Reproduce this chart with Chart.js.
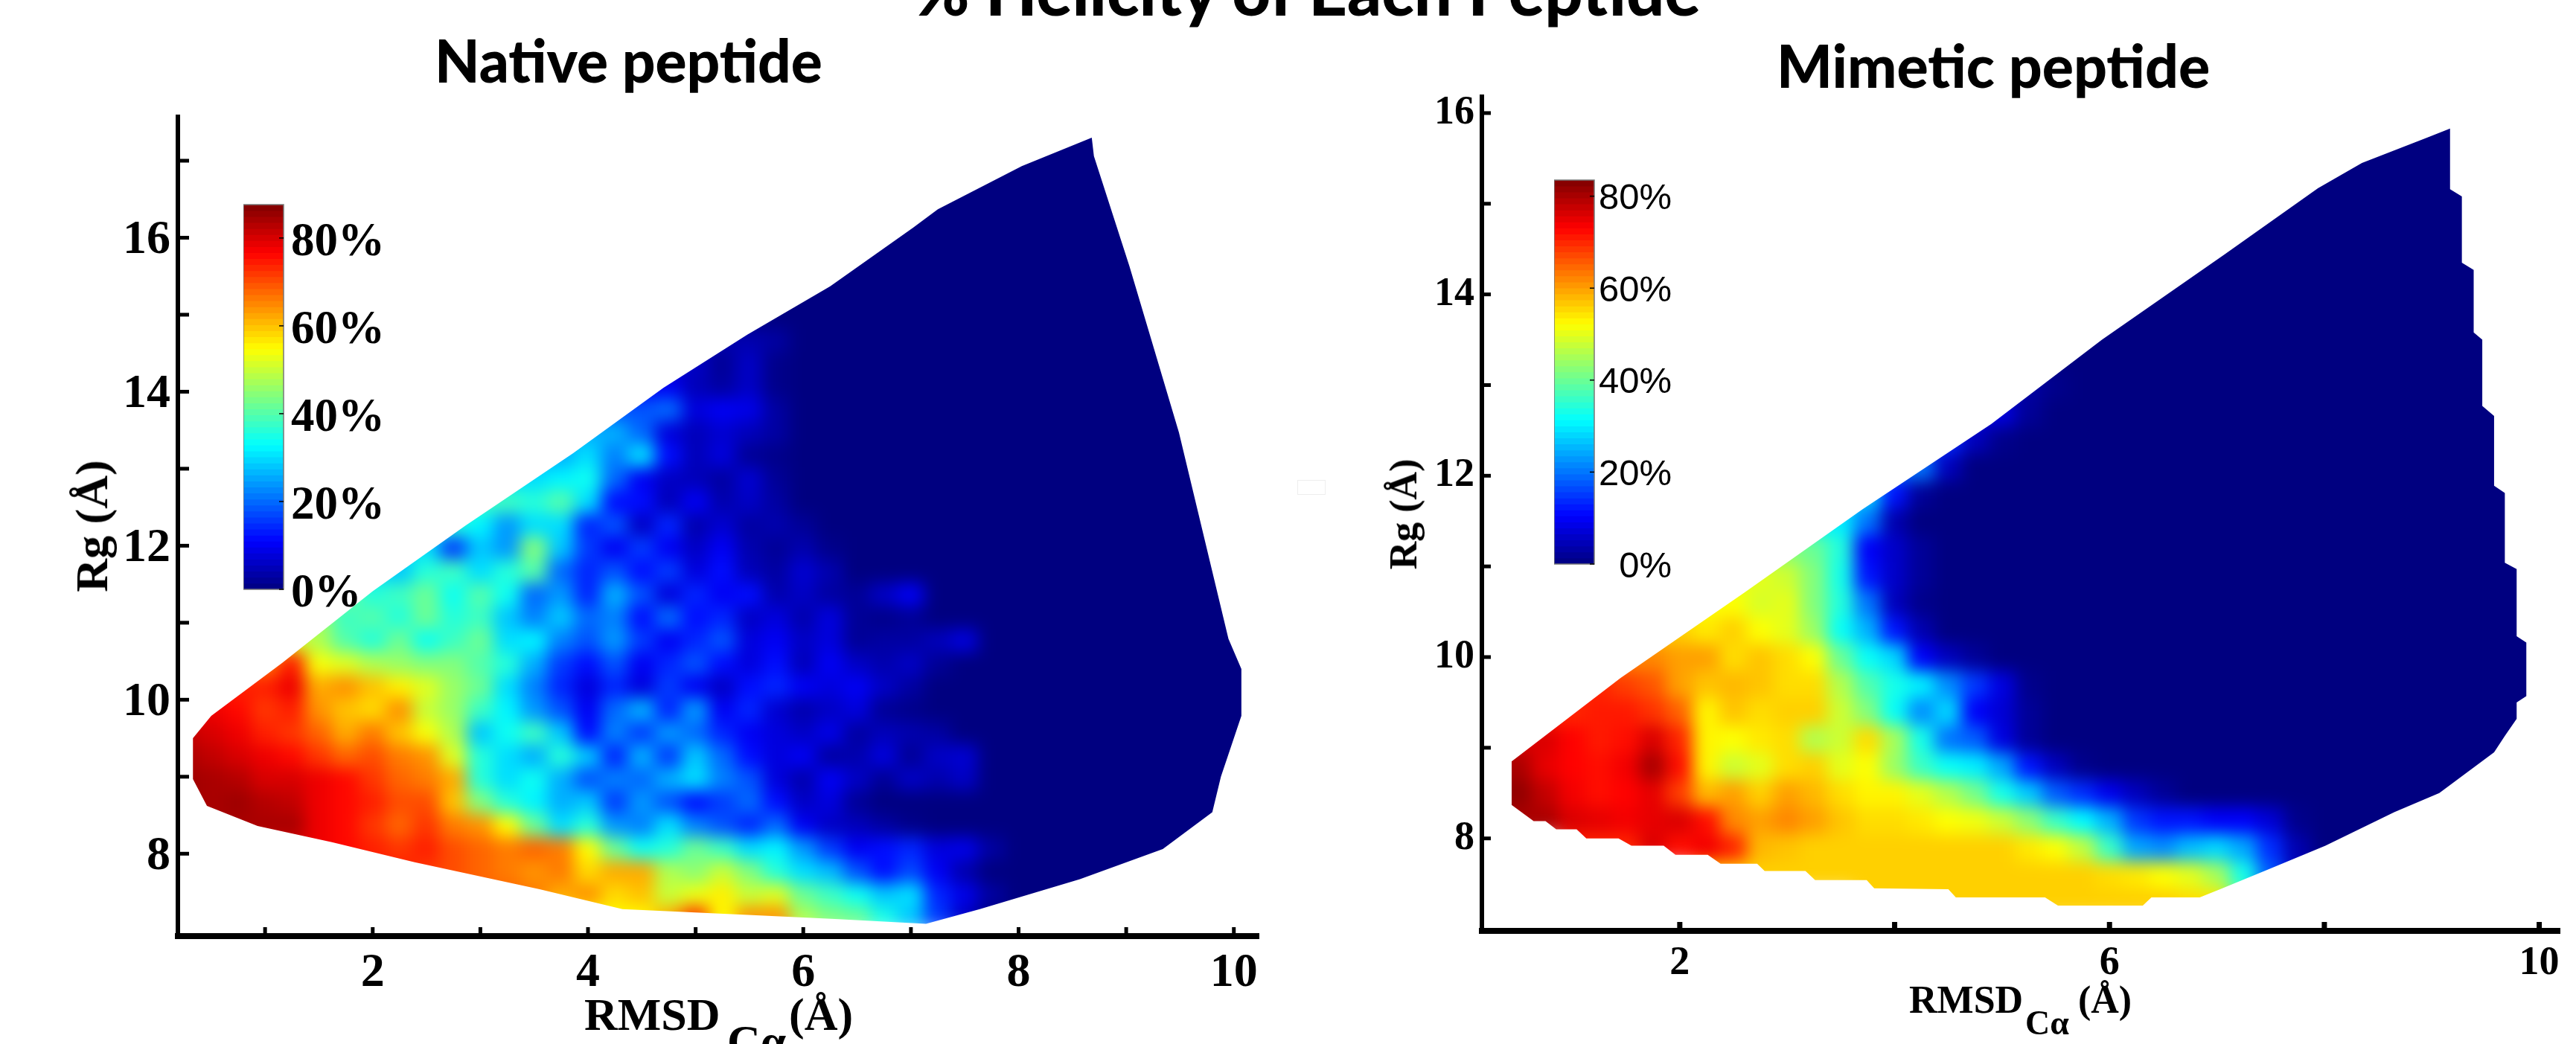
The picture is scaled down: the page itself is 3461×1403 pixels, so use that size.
<!DOCTYPE html>
<html>
<head>
<meta charset="utf-8">
<script src="https://cdn.jsdelivr.net/npm/chart.js@4"></script>
<style>
html, body { margin: 0; padding: 0; background: #fff; }
body { width: 3461px; height: 1403px; overflow: hidden; position: relative; }
canvas { position: absolute; }
.txt { position: absolute; white-space: pre; color: #000; line-height: 1; }
.sans { font-family: 'Lato', sans-serif; font-weight: 900; transform-origin: left top; }
.serif { font-family: 'Liberation Serif', serif; font-weight: 700; }
</style>
</head>
<body>
<canvas id="native-chart" width="1571" height="1273" style="left:130px;top:130px"></canvas>
<canvas id="mimetic-chart" width="1559" height="1293" style="left:1890px;top:110px"></canvas>
<canvas id="native-bar" width="200" height="600" style="left:327px;top:240px"></canvas>
<canvas id="mimetic-bar" width="170" height="600" style="left:2088px;top:200px"></canvas>
<div class="txt sans" style="left:1228px;top:-60px;font-size:92px;transform:scaleX(.98)">% Helicity of Each Peptide</div>
<div class="txt sans" style="left:584px;top:40px;font-size:80px;transform:scaleX(.98)">Native peptide</div>
<div class="txt sans" style="left:2387px;top:47px;font-size:80px;transform:scaleX(.985)">Mimetic peptide</div>
<div class="txt serif" style="left:785px;top:1332px;font-size:62px">RMSD</div>
<div class="txt serif" style="left:977px;top:1368px;font-size:62px">Cα</div>
<div class="txt serif" style="left:1060px;top:1332px;font-size:62px">(Å)</div>
<div class="txt serif" style="left:123px;top:707px;font-size:62px;transform:translate(-50%,-50%) rotate(-90deg)">Rg (Å)</div>
<div class="txt serif" style="left:2565px;top:1318px;font-size:52px">RMSD</div>
<div class="txt serif" style="left:2721px;top:1352px;font-size:46px">Cα</div>
<div class="txt serif" style="left:2792px;top:1318px;font-size:52px">(Å)</div>
<div class="txt serif" style="left:1886px;top:691px;font-size:52px;transform:translate(-50%,-50%) rotate(-90deg)">Rg (Å)</div>
<div style="position:absolute;left:1743px;top:645px;width:36px;height:18px;border:1px solid #eee"></div>

<script>
// axis ticks
const nativeXTicks = [1, 2, 3, 4, 5, 6, 7, 8, 9, 10];
const nativeXLabels = [2, 4, 6, 8, 10];
const nativeYTicks = [8, 9, 10, 11, 12, 13, 14, 15, 16, 17];
const nativeYLabels = [8, 10, 12, 14, 16];
const mimeticXTicks = [2, 4, 6, 8, 10];
const mimeticXLabels = [2, 6, 10];
const mimeticYTicks = [8, 9, 10, 11, 12, 13, 14, 15, 16];
const mimeticYLabels = [8, 10, 12, 14, 16];
const colorbarTicks = [0, 20, 40, 60, 80];

// Rg of each heat map row, RMSD of the first value in the row, helicity % from there on.
// Columns are 0.25 apart; whatever a row leaves out to the right is 0%.
const nativeRg = [7.2, 7.5, 7.8, 8.1, 8.4, 8.7, 9.0, 9.3, 9.6, 9.9, 10.2, 10.5, 10.8, 11.1, 11.4, 11.7, 12.0, 12.3,
    12.6, 12.9, 13.2, 13.5, 13.8, 14.1, 14.4, 14.7, 15.0, 15.3, 15.6, 15.9, 16.2, 16.5, 16.8, 17.1, 17.4];
const nativeStart = [4.25, 3.25, 2.25, 1.25, 0.75, 0.25, 0.25, 0.25, 0.25, 0.5, 0.75, 1, 1.25, 1.5, 1.75, 2, 2.5, 2.75,
    3.25, 3.5, 3.75, 4.25, 4.5, 4.75, 5, 5.5, 5.75, 6, 6.5, 6.75, 7, 7.5, 7.75, 8.25, 8.5];
const nativeRows = [
    [55, 55, 62, 72, 55, 64, 64, 48, 44, 42, 35, 28, 16, 6],
    [68, 66, 62, 64, 58, 60, 50, 53, 56, 50, 52, 42, 38, 34, 28, 30, 14, 9, 3],
    [74, 72, 70, 68, 66, 64, 66, 58, 62, 62, 48, 45, 50, 44, 36, 30, 27, 18, 12, 17, 10, 4],
    [80, 78, 76, 74, 72, 74, 70, 68, 66, 68, 66, 55, 42, 34, 36, 42, 38, 30, 32, 24, 16, 10, 12, 14, 8, 9, 3],
    [84, 84, 84, 78, 76, 72, 68, 72, 66, 64, 55, 42, 30, 36, 24, 22, 30, 22, 18, 14, 20, 10, 6, 5, 3, 1],
    [85, 84, 85, 83, 82, 78, 76, 74, 70, 70, 60, 44, 36, 32, 26, 28, 16, 24, 18, 12, 16, 20, 12, 6, 8, 2],
    [85, 84, 83, 80, 80, 78, 76, 72, 68, 66, 62, 36, 30, 34, 26, 18, 22, 20, 26, 30, 22, 18, 8, 4, 10, 6, 2, 6, 4, 6],
    [84, 82, 80, 78, 76, 72, 68, 70, 66, 64, 52, 36, 30, 26, 36, 28, 14, 26, 16, 28, 20, 12, 8, 10, 3, 4, 8, 2, 6, 7],
    [82, 80, 78, 74, 72, 68, 62, 66, 60, 54, 48, 28, 34, 38, 28, 12, 22, 16, 24, 20, 14, 10, 8, 6, 9, 3, 5, 4, 3],
    [78, 76, 72, 74, 64, 60, 58, 64, 50, 46, 38, 32, 24, 18, 10, 20, 26, 14, 24, 10, 14, 7, 4, 6, 8, 2, 1],
    [74, 74, 78, 62, 64, 60, 56, 52, 46, 42, 30, 22, 14, 8, 14, 8, 16, 10, 6, 12, 14, 10, 8, 10, 6, 3],
    [66, 74, 54, 52, 48, 46, 44, 44, 40, 36, 26, 16, 12, 18, 10, 14, 18, 12, 8, 12, 5, 10, 6, 4, 6, 2],
    [52, 48, 40, 36, 42, 34, 38, 42, 30, 32, 22, 18, 24, 16, 10, 14, 18, 8, 10, 6, 8, 2, 3, 3, 5, 8],
    [46, 38, 40, 36, 42, 36, 38, 28, 22, 28, 20, 22, 12, 20, 12, 14, 6, 8, 4, 8, 2, 1, 2],
    [42, 36, 38, 42, 34, 40, 34, 20, 24, 14, 26, 18, 8, 14, 10, 12, 4, 6, 3, 2, 6, 10],
    [30, 28, 36, 38, 30, 36, 40, 20, 14, 18, 12, 16, 8, 12, 5, 3, 7, 4],
    [30, 16, 28, 24, 44, 28, 16, 10, 16, 10, 6, 10, 4, 2, 4, 1],
    [36, 32, 24, 30, 30, 14, 18, 6, 14, 4, 7, 3, 4, 2],
    [38, 36, 40, 30, 12, 12, 5, 10, 4, 6, 3],
    [30, 32, 34, 20, 10, 6, 5, 3, 7, 2],
    [26, 30, 22, 30, 12, 5, 8, 2, 1],
    [26, 20, 8, 5, 7, 5, 3],
    [18, 20, 8, 10, 9, 3],
    [10, 5, 3, 6, 1],
    [6, 2, 6, 1],
    [4, 3],
    [], [], [], [], [], [], [], [], []
];
const nativeOutlineR = [0.33, 0.5, 1.16, 2, 2.86, 3.86, 4.7, 5.48, 6.25, 7.02, 7.25, 8.03, 8.68, 8.7, 9.03, 9.49, 9.95, 10.07,
    10.07, 9.88, 9.8, 9.34, 8.57, 7.64, 7.14, 6.33, 5.56, 4.32, 3.55, 2.39, 1.62, 0.93, 0.46, 0.33];
const nativeOutlineRg = [9.5, 9.79, 10.48, 11.41, 12.26, 13.2, 14.05, 14.74, 15.37, 16.13, 16.37, 16.93, 17.3, 17.06, 15.63, 13.47, 10.79, 10.4,
    9.79, 9, 8.54, 8.06, 7.67, 7.28, 7.09, 7.15, 7.2, 7.28, 7.54, 7.89, 8.15, 8.36, 8.62, 8.97];

const mimeticRg = [7.3, 7.6, 7.9, 8.2, 8.5, 8.8, 9.1, 9.4, 9.7, 10, 10.3, 10.6, 10.9, 11.2, 11.5, 11.8, 12.1, 12.4,
    12.7, 13, 13.3, 13.6, 13.9, 14.2, 14.5, 14.8, 15.1, 15.4, 15.7, 16];
const mimeticStart = [4.25, 2.75, 1.5, 0.75, 0.5, 0.5, 0.75, 1, 1.25, 1.75, 2, 2.5, 2.75, 3, 3.5, 3.75, 4.25, 4.5,
    5, 5.25, 5.5, 5.75, 6.25, 6.5, 7, 7.25, 7.75, 8, 8.75, 9];
const mimeticRows = [
    [56, 56, 56, 56, 56, 56, 56, 56, 56, 56, 55, 54, 40],
    [56, 56, 56, 56, 56, 56, 56, 56, 56, 56, 56, 56, 56, 55, 54, 52, 50, 45, 33, 18, 5],
    [70, 76, 72, 74, 70, 58, 57, 56, 56, 56, 56, 56, 56, 56, 56, 54, 52, 47, 36, 24, 22, 26, 28, 24, 14, 4],
    [80, 76, 75, 74, 75, 76, 72, 62, 60, 62, 60, 57, 55, 55, 54, 52, 51, 48, 43, 36, 31, 25, 15, 12, 12, 10, 10, 7, 1],
    [82, 78, 74, 72, 73, 75, 68, 58, 60, 56, 60, 58, 55, 53, 53, 50, 46, 41, 33, 27, 18, 14, 9, 5, 2],
    [80, 75, 73, 72, 74, 80, 72, 53, 48, 50, 55, 56, 50, 52, 44, 36, 32, 30, 24, 12, 5, 1],
    [76, 73, 71, 72, 76, 70, 53, 52, 54, 55, 46, 48, 55, 45, 33, 20, 18, 8, 2],
    [70, 71, 71, 69, 65, 53, 57, 55, 56, 56, 48, 42, 32, 22, 28, 10, 7, 2],
    [70, 68, 66, 60, 57, 58, 57, 55, 55, 46, 38, 33, 30, 22, 15, 8, 1],
    [62, 60, 60, 55, 57, 55, 52, 40, 32, 28, 10, 5, 2],
    [56, 54, 56, 52, 50, 44, 32, 25, 12, 4],
    [52, 49, 50, 42, 34, 20, 5, 1],
    [50, 48, 42, 33, 12, 6, 2],
    [42, 40, 34, 10, 6, 2],
    [30, 20, 4],
    [28, 12, 2],
    [20, 5],
    [14, 5, 1],
    [8, 2],
    [3, 1],
    [], [], [], [], [], [], [], [], [], []
];
const mimeticOutlineR = [0.435, 1.45, 2.6, 3.7, 4.9, 5.93, 7.07, 7.94, 8.35, 8.96, 9.17, 9.17, 9.28, 9.28, 9.39, 9.39, 9.47, 9.47, 9.58, 9.58, 9.68, 9.68, 9.79, 9.79,
    9.88, 9.88, 9.79, 9.79, 9.68, 9.58, 9.07, 8.65, 8.01, 7.48, 7.03, 6.84, 6.39, 6.31, 5.52, 5.4, 4.57, 4.5, 3.81, 3.74, 3.26, 3.17, 2.79, 2.72, 2.38, 2.26, 1.96, 1.85, 1.55, 1.43, 1.13, 1.04, 0.85, 0.75, 0.64, 0.435];
const mimeticOutlineRg = [8.85, 9.77, 10.71, 11.63, 12.57, 13.5, 14.44, 15.17, 15.45, 15.73, 15.83, 15.16, 15.08, 14.35, 14.27, 13.58, 13.5, 12.77, 12.66, 11.89, 11.81, 11.04, 10.97, 10.23,
    10.16, 9.57, 9.5, 9.32, 9.13, 8.95, 8.5, 8.29, 7.92, 7.66, 7.44, 7.35, 7.35, 7.26, 7.26, 7.35, 7.35, 7.44, 7.45, 7.54, 7.54, 7.64, 7.64, 7.72, 7.72, 7.82, 7.82, 7.92, 7.92, 8, 8, 8.1, 8.1, 8.19, 8.19, 8.37];

const nativeMax = 87.6;
const mimeticMax = 83.5;

function jet(t) {
    const ramp = v => Math.round(255 * Math.max(0, Math.min(1, v)));
    const r = ramp(Math.min(4 * t - 1.5, 4.5 - 4 * t));
    const g = ramp(Math.min(4 * t - 0.5, 3.5 - 4 * t));
    const b = ramp(Math.min(4 * t + 0.5, 2.5 - 4 * t));
    return `rgb(${r},${g},${b})`;
}

function buildCells(rgList, startList, rows, maxValue) {
    const points = [];
    const colors = [];
    rgList.forEach((rg, i) => {
        const startCol = Math.round((startList[i] - 0.25) / 0.25);
        for (let col = Math.max(0, startCol - 2); col <= 40; col++) {
            // cells left of the start sit outside the outline, they only keep the blur from fading at the edge
            const value = rows[i][Math.max(0, col - startCol)] ?? 0;
            points.push({ x: 0.25 + col * 0.25, y: rg });
            colors.push(jet(value / maxValue));
        }
    });
    return { points, colors };
}

// Smooths the drawn cells and cuts them to the sampled region
const softCells = {
    id: 'softCells',
    afterDatasetsDraw(chart, args, options) {
        const { ctx, canvas, scales: { x, y } } = chart;
        const copy = document.createElement('canvas');
        copy.width = canvas.width;
        copy.height = canvas.height;
        copy.getContext('2d').drawImage(canvas, 0, 0);
        ctx.save();
        ctx.clearRect(0, 0, canvas.width, canvas.height);
        ctx.beginPath();
        options.outlineR.forEach((r, i) => {
            const px = x.getPixelForValue(r);
            const py = y.getPixelForValue(options.outlineRg[i]);
            if (i === 0) ctx.moveTo(px, py);
            else ctx.lineTo(px, py);
        });
        ctx.closePath();
        ctx.clip();
        ctx.filter = `blur(${options.blur}px)`;
        ctx.drawImage(copy, 0, 0);
        ctx.restore();
    }
};

// Matlab style ticks, pointing into the plot
const inwardTicks = {
    id: 'inwardTicks',
    afterDraw(chart, args, options) {
        const { ctx, chartArea, scales } = chart;
        ctx.save();
        ctx.strokeStyle = options.color || '#000';
        if (scales.x && options.xLength) {
            ctx.lineWidth = options.xWidth;
            scales.x.ticks.forEach(t => {
                const px = scales.x.getPixelForValue(t.value);
                ctx.beginPath();
                ctx.moveTo(px, chartArea.bottom);
                ctx.lineTo(px, chartArea.bottom - options.xLength);
                ctx.stroke();
            });
        }
        ctx.lineWidth = options.yWidth;
        scales.y.ticks.forEach(t => {
            const py = scales.y.getPixelForValue(t.value);
            const edge = options.fromRight ? chartArea.right : chartArea.left;
            ctx.beginPath();
            ctx.moveTo(edge, py);
            ctx.lineTo(edge + (options.fromRight ? -1 : 1) * options.yLength, py);
            ctx.stroke();
        });
        ctx.restore();
    }
};

// the label overhang would push the plot area around, the positions here are fixed
function noOverhang(s) {
    s.paddingTop = 0;
    s.paddingBottom = 0;
    s.paddingLeft = 0;
    s.paddingRight = 0;
}

function drawHeatMap(id, cfg) {
    const cells = buildCells(cfg.rg, cfg.start, cfg.rows, cfg.maxValue);
    const font = { family: "'Liberation Serif', serif", weight: 'bold', size: cfg.fontSize };
    new Chart(document.getElementById(id), {
        type: 'scatter',
        data: {
            datasets: [{
                data: cells.points,
                backgroundColor: cells.colors,
                pointStyle: 'rect',
                pointRadius: 26.5,
                pointBorderWidth: 0,
                borderWidth: 0,
                clip: false
            }]
        },
        options: {
            responsive: false,
            animation: false,
            events: [],
            layout: { padding: cfg.padding, autoPadding: false },
            plugins: {
                legend: { display: false },
                tooltip: { enabled: false },
                softCells: { outlineR: cfg.outlineR, outlineRg: cfg.outlineRg, blur: cfg.blur },
                inwardTicks: cfg.tickStyle
            },
            scales: {
                x: {
                    type: 'linear',
                    min: cfg.xRange[0],
                    max: cfg.xRange[1],
                    afterFit: s => { s.height = cfg.xHeight; noOverhang(s); },
                    afterBuildTicks: s => { s.ticks = cfg.xTicks.map(v => ({ value: v })); },
                    grid: { drawOnChartArea: false, drawTicks: false },
                    border: { color: '#000', width: cfg.xLine, z: 1 },
                    ticks: {
                        z: 1, color: '#000', font, padding: cfg.xPad, autoSkip: false, maxRotation: 0,
                        callback: v => cfg.xLabels.includes(v) ? String(v) : ''
                    }
                },
                y: {
                    type: 'linear',
                    min: cfg.yRange[0],
                    max: cfg.yRange[1],
                    afterFit: s => { s.width = cfg.yWidth; noOverhang(s); },
                    afterBuildTicks: s => { s.ticks = cfg.yTicks.map(v => ({ value: v })); },
                    grid: { drawOnChartArea: false, drawTicks: false },
                    border: { color: '#000', width: cfg.yLine, z: 1 },
                    ticks: {
                        z: 1, color: '#000', font, padding: cfg.yPad, labelOffset: cfg.yLabelOffset, autoSkip: false,
                        callback: v => cfg.yLabels.includes(v) ? String(v) : ''
                    }
                }
            }
        },
        plugins: [softCells, inwardTicks]
    });
}

function drawColorbar(id, cfg) {
    const levels = [];
    const colors = [];
    for (let i = 0; i < 64; i++) {
        levels.push({ x: 'c', y: [i * cfg.maxValue / 64, Math.min(cfg.maxValue, (i + 1.2) * cfg.maxValue / 64)] });
        colors.push(jet((i + 0.5) / 64));
    }
    const outline = {
        id: 'outline',
        afterDatasetsDraw(chart) {
            const { ctx, chartArea: a } = chart;
            ctx.save();
            ctx.strokeStyle = '#777';
            ctx.lineWidth = 1.5;
            ctx.strokeRect(a.left, a.top, a.right - a.left, a.bottom - a.top);
            ctx.restore();
        }
    };
    new Chart(document.getElementById(id), {
        type: 'bar',
        data: {
            labels: ['c'],
            datasets: [{ data: levels, backgroundColor: colors, barPercentage: 1, categoryPercentage: 1, borderWidth: 0 }]
        },
        options: {
            responsive: false,
            animation: false,
            events: [],
            layout: { padding: cfg.padding, autoPadding: false },
            plugins: {
                legend: { display: false },
                tooltip: { enabled: false },
                inwardTicks: { yWidth: 1.5, yLength: 6, fromRight: true }
            },
            scales: {
                x: { display: false },
                y: {
                    type: 'linear',
                    position: 'right',
                    min: 0,
                    max: cfg.maxValue,
                    afterFit: s => { s.width = cfg.axisWidth; noOverhang(s); },
                    afterBuildTicks: s => { s.ticks = colorbarTicks.map(v => ({ value: v })); },
                    grid: { display: false },
                    border: { display: false },
                    ticks: {
                        color: '#000', font: cfg.font, padding: cfg.tickPad, crossAlign: cfg.crossAlign, autoSkip: false,
                        labelOffset: cfg.labelOffset,
                        callback: v => `${v}%`
                    }
                }
            }
        },
        plugins: [outline, inwardTicks]
    });
}

drawHeatMap('native-chart', {
    rg: nativeRg, start: nativeStart, rows: nativeRows, maxValue: nativeMax,
    outlineR: nativeOutlineR, outlineRg: nativeOutlineRg, blur: 11,
    xTicks: nativeXTicks, xLabels: nativeXLabels, yTicks: nativeYTicks, yLabels: nativeYLabels,
    xRange: [0.19, 10.23], yRange: [6.93, 17.57],
    padding: { top: 27, right: 10, left: 0, bottom: 0 },
    xHeight: 145, yWidth: 109, fontSize: 64, xLine: 8, yLine: 6, xPad: 12, yPad: 10, yLabelOffset: 4,
    tickStyle: { xWidth: 5, xLength: 12, yWidth: 5, yLength: 15 }
});

drawHeatMap('mimetic-chart', {
    rg: mimeticRg, start: mimeticStart, rows: mimeticRows, maxValue: mimeticMax,
    outlineR: mimeticOutlineR, outlineRg: mimeticOutlineRg, blur: 11,
    xTicks: mimeticXTicks, xLabels: mimeticXLabels, yTicks: mimeticYTicks, yLabels: mimeticYLabels,
    xRange: [0.158, 10.19], yRange: [6.98, 16.18],
    padding: { top: 20, right: 10, left: 0, bottom: 0 },
    xHeight: 152, yWidth: 101, fontSize: 54, xLine: 8, yLine: 6, xPad: 12, yPad: 10, yLabelOffset: 0,
    tickStyle: { xWidth: 7, xLength: 12, yWidth: 5, yLength: 12 }
});

drawColorbar('native-bar', {
    maxValue: nativeMax,
    padding: { top: 35, bottom: 48, left: 0, right: 0 },
    axisWidth: 146, tickPad: 2, crossAlign: 'near', labelOffset: 7,
    font: { family: "'Liberation Serif', serif", weight: 'bold', size: 63 }
});

drawColorbar('mimetic-bar', {
    maxValue: mimeticMax,
    padding: { top: 42, bottom: 42, left: 0, right: 12 },
    axisWidth: 104, tickPad: 8, crossAlign: 'far', labelOffset: 4,
    font: { family: "'Liberation Sans', sans-serif", size: 49 }
});
</script>
</body>
</html>
